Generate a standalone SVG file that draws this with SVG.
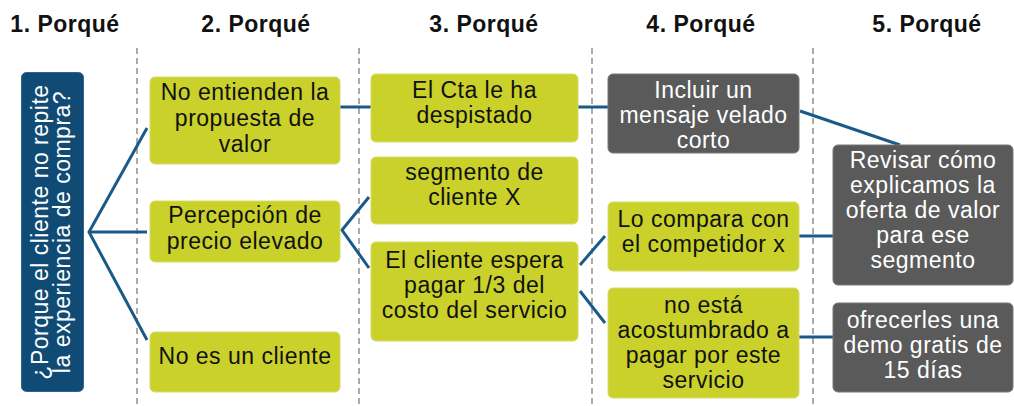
<svg xmlns="http://www.w3.org/2000/svg" width="1014" height="406" viewBox="0 0 1014 406">
<style>
.title{font-family:"Liberation Sans",Arial,sans-serif;font-weight:bold;font-size:23px;fill:#111;text-anchor:middle;letter-spacing:0.5px}
.t{font-family:"Liberation Sans",Arial,sans-serif;font-size:23px;text-anchor:middle;letter-spacing:0.5px}
.dk{fill:#111}
.wt{fill:#fff}
.lime{fill:#c9d12a;stroke:#d6dc6a;stroke-width:1}
.gray{fill:#5a5a5a;stroke:#777;stroke-width:1}
.blue{fill:#0f4b74;stroke:#2e6590;stroke-width:1}
.sep{stroke:#aaaaaa;stroke-width:2;stroke-dasharray:6 4;fill:none}
.con{stroke:#1a5a88;stroke-width:3;fill:none}
</style>
<rect width="1014" height="406" fill="#fff"/>
<g id="titles">
<text class="title" x="65" y="32">1. Porqué</text>
<text class="title" x="256" y="32">2. Porqué</text>
<text class="title" x="484" y="32">3. Porqué</text>
<text class="title" x="701" y="32">4. Porqué</text>
<text class="title" x="927" y="32">5. Porqué</text>
</g>
<g id="separators">
<line class="sep" x1="137" y1="48" x2="137" y2="406"/>
<line class="sep" x1="359" y1="48" x2="359" y2="406"/>
<line class="sep" x1="592" y1="48" x2="592" y2="406"/>
<line class="sep" x1="813" y1="48" x2="813" y2="406"/>
</g>
<g id="connectors">
<polyline class="con" points="147,128 89,232 147,340"/>
<line class="con" x1="89" y1="232" x2="147" y2="232"/>
<line class="con" x1="340" y1="107" x2="371" y2="107"/>
<polyline class="con" points="369,197 342,230 369,268"/>
<line class="con" x1="578" y1="107" x2="608" y2="107"/>
<line class="con" x1="580" y1="265" x2="605" y2="236"/>
<line class="con" x1="580" y1="291" x2="605" y2="323"/>
<line class="con" x1="800" y1="111" x2="900" y2="145"/>
<line class="con" x1="799" y1="236" x2="833" y2="236"/>
<line class="con" x1="799" y1="337" x2="833" y2="337"/>
</g>
<g id="n1">
<rect class="blue" x="21.5" y="72.5" width="62" height="319" rx="5"/>
<g transform="translate(52,232) rotate(-90)">
<text class="t wt" x="0" y="-4">¿Porque el cliente no repite</text>
<text class="t wt" x="0" y="18">la experiencia de compra?</text>
</g>
</g>
<g id="n2a">
<rect class="lime" x="150" y="77" width="190" height="87" rx="5"/>
<text class="t dk" x="245" y="100">No entienden la</text>
<text class="t dk" x="245" y="126">propuesta de</text>
<text class="t dk" x="245" y="152">valor</text>
</g>
<g id="n2b">
<rect class="lime" x="150" y="201" width="190" height="61" rx="5"/>
<text class="t dk" x="245" y="223">Percepción de</text>
<text class="t dk" x="245" y="249">precio elevado</text>
</g>
<g id="n2c">
<rect class="lime" x="150" y="332" width="190" height="60" rx="5"/>
<text class="t dk" x="245" y="364">No es un cliente</text>
</g>
<g id="n3a">
<rect class="lime" x="371" y="74" width="207" height="68" rx="5"/>
<text class="t dk" x="474.5" y="98">El Cta le ha</text>
<text class="t dk" x="474.5" y="123">despistado</text>
</g>
<g id="n3b">
<rect class="lime" x="371" y="157" width="207" height="67" rx="5"/>
<text class="t dk" x="474.5" y="180">segmento de</text>
<text class="t dk" x="474.5" y="205">cliente X</text>
</g>
<g id="n3c">
<rect class="lime" x="371" y="242" width="207" height="99" rx="5"/>
<text class="t dk" x="474.5" y="268">El cliente espera</text>
<text class="t dk" x="474.5" y="293">pagar 1/3 del</text>
<text class="t dk" x="474.5" y="318">costo del servicio</text>
</g>
<g id="n4a">
<rect class="gray" x="608" y="74" width="191" height="79" rx="5"/>
<text class="t wt" x="703.5" y="98">Incluir un</text>
<text class="t wt" x="703.5" y="123">mensaje velado</text>
<text class="t wt" x="703.5" y="148">corto</text>
</g>
<g id="n4b">
<rect class="lime" x="608" y="202" width="191" height="69" rx="5"/>
<text class="t dk" x="703.5" y="227">Lo compara con</text>
<text class="t dk" x="703.5" y="252">el competidor x</text>
</g>
<g id="n4c">
<rect class="lime" x="608" y="288" width="191" height="110" rx="5"/>
<text class="t dk" x="703.5" y="313">no está</text>
<text class="t dk" x="703.5" y="338">acostumbrado a</text>
<text class="t dk" x="703.5" y="363">pagar por este</text>
<text class="t dk" x="703.5" y="388">servicio</text>
</g>
<g id="n5a">
<rect class="gray" x="833" y="145" width="180" height="140" rx="5"/>
<text class="t wt" x="923" y="168">Revisar cómo</text>
<text class="t wt" x="923" y="193">explicamos la</text>
<text class="t wt" x="923" y="218">oferta de valor</text>
<text class="t wt" x="923" y="243">para ese</text>
<text class="t wt" x="923" y="268">segmento</text>
</g>
<g id="n5b">
<rect class="gray" x="833" y="303" width="180" height="89" rx="5"/>
<text class="t wt" x="923" y="328">ofrecerles una</text>
<text class="t wt" x="923" y="353">demo gratis de</text>
<text class="t wt" x="923" y="378">15 días</text>
</g>
</svg>
